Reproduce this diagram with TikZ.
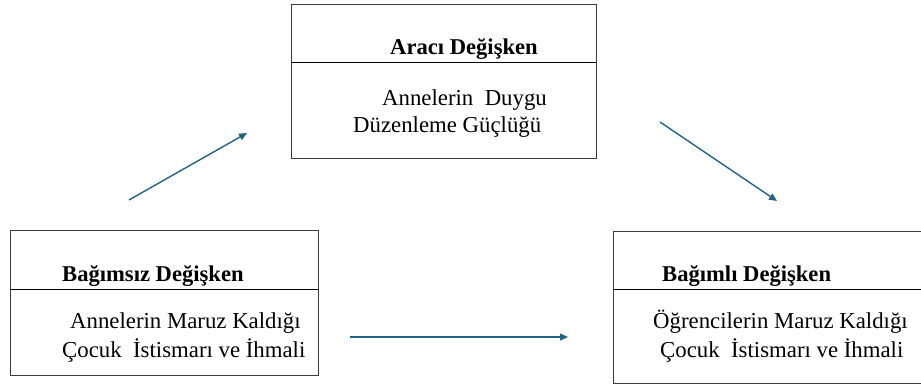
\documentclass[tikz,border=0pt]{standalone}
\usepackage{fontspec}
\setmainfont{Liberation Serif}
\usetikzlibrary{arrows.meta}
\definecolor{arrowblue}{RGB}{31,99,135}
\definecolor{boxline}{RGB}{60,60,60}
\begin{document}
\begin{tikzpicture}[x=1pt,y=-1pt,
  box/.style={draw=boxline,line width=1pt},
  divider/.style={draw=black,line width=1pt},
  lbl/.style={inner sep=0pt,anchor=base west,font=\fontsize{22.8}{28}\selectfont},
  ttl/.style={lbl,font=\fontsize{22.6}{28}\selectfont\bfseries},
  conn/.style={draw=arrowblue,line width=1.4pt,-{Triangle[length=8pt,width=7pt]}}]
\useasboundingbox (0,0) rectangle (921,387);
\clip (0,0) rectangle (921,387);
% boxes
\node[box,inner sep=0pt,minimum width=305pt,minimum height=154pt,anchor=north west] (mbox) at (291,4) {};
\draw[divider] (291,63) -- (596,63);
\node[box,inner sep=0pt,minimum width=308pt,minimum height=145pt,anchor=north west] (ibox) at (10,230) {};
\draw[divider] (10,290) -- (318,290);
\node[box,inner sep=0pt,minimum width=330pt,minimum height=152pt,anchor=north west] (dbox) at (613,231) {};
\draw[divider] (613,290) -- (943,290);
% texts
\node[ttl] (mt) at (390,55) {Aracı Değişken};
\node[lbl] (m1) at (382,106) {Annelerin\ \ Duygu};
\node[lbl] (m2) at (353,133) {Düzenleme Güçlüğü};
\node[ttl] (it) at (62,282) {Bağımsız Değişken};
\node[lbl] (i1) at (70,328) {Annelerin Maruz Kaldığı};
\node[lbl] (i2) at (62,357) {Çocuk\ \ İstismarı ve İhmali};
\node[ttl] (dt) at (662,282) {Bağımlı Değişken};
\node[lbl] (d1) at (653,328) {Öğrencilerin Maruz Kaldığı};
\node[lbl] (d2) at (660,357) {Çocuk\ \ İstismarı ve İhmali};
% connector ends
\coordinate (a1s) at (129,200);
\coordinate (a1e) at (247,133);
\coordinate (a2s) at (660,122);
\coordinate (a2e) at (777,201);
\coordinate (a3s) at (350,337);
\coordinate (a3e) at (568,337);
\draw[conn] (a1s) -- (a1e);
\draw[conn] (a2s) -- (a2e);
\draw[conn] (a3s) -- (a3e);
\end{tikzpicture}
\end{document}
